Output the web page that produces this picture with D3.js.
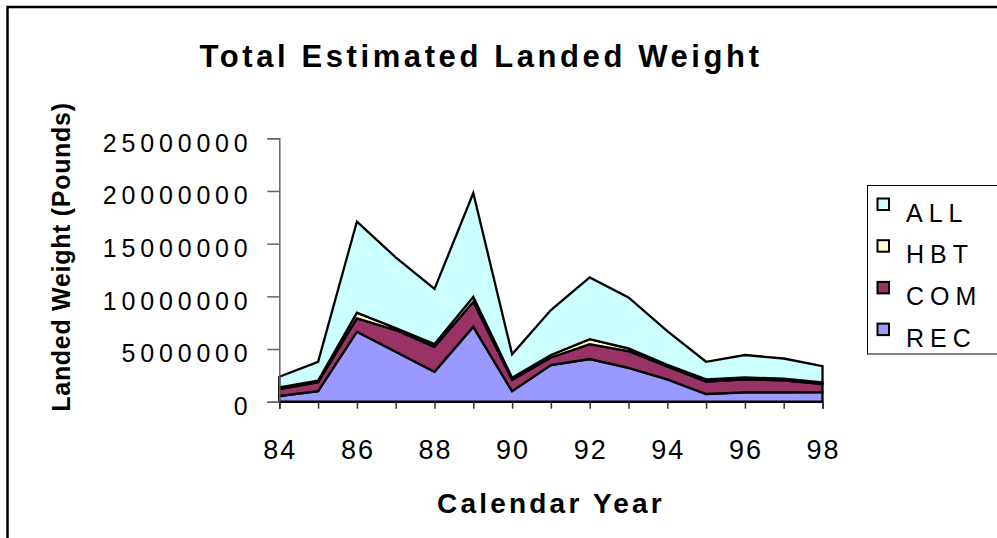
<!DOCTYPE html>
<html>
<head>
<meta charset="utf-8">
<script src="https://cdn.jsdelivr.net/npm/d3@7"></script>
<style>
  html, body { margin: 0; padding: 0; background: #fff; }
  svg { display: block; font-family: "Liberation Sans", Arial, sans-serif; }
</style>
</head>
<body>
<svg id="chart" width="997" height="538"></svg>
<script>
// ---- Data (values in pounds, stacked REC -> COM -> HBT -> ALL) ----
const years = [84, 85, 86, 87, 88, 89, 90, 91, 92, 93, 94, 95, 96, 97, 98];
const REC = [540000, 1000000, 6640000, 4740000, 2840000, 7110000, 1000000, 3480000, 4050000, 3200000, 2120000, 730000, 890000, 890000, 900000];
const COM = [660000, 850000, 1260000, 2060000, 2360000, 2370000, 1060000, 720000, 1420000, 1600000, 1230000, 1170000, 1230000, 1140000, 780000];
const HBT = [170000, 150000, 540000, 200000, 270000, 470000, 210000, 230000, 470000, 260000, 150000, 220000, 190000, 150000, 160000];
const ALL = [1000000, 1790000, 8660000, 6700000, 5230000, 9850000, 2230000, 4270000, 5860000, 4840000, 3200000, 1670000, 2120000, 1920000, 1540000];
const seriesNames = ["REC", "COM", "HBT", "ALL"];
const seriesColors = ["#9999FF", "#993366", "#FFFFCC", "#CCFFFF"];
const yTicks = [0, 5000000, 10000000, 15000000, 20000000, 25000000];
const xLabelYears = [84, 86, 88, 90, 92, 94, 96, 98];
const titleText = "Total Estimated Landed Weight";
const xTitle = "Calendar Year";
const yTitle = "Landed Weight (Pounds)";

const table = years.map((yr, i) => ({ year: yr, REC: REC[i], COM: COM[i], HBT: HBT[i], ALL: ALL[i] }));

const svg = d3.select("#chart");

// outer chart border
svg.append("rect")
  .attr("x", 7.5).attr("y", 7).attr("width", 1010).attr("height", 560)
  .attr("fill", "#fff").attr("stroke", "#000").attr("stroke-width", 2.5);

const x = d3.scaleLinear().domain([84, 98]).range([279.3, 822.5]);
const y = d3.scaleLinear().domain([0, 25000000]).range([401.7, 138.3]);

const stack = d3.stack().keys(seriesNames);
const stacked = stack(table);

const area = d3.area()
  .x(d => x(d.data.year))
  .y0(d => y(d[0]))
  .y1(d => y(d[1]));

const areaG = svg.append("g");
areaG.selectAll("path")
  .data(stacked)
  .join("path")
  .attr("d", d => area(d) + "Z")
  .attr("fill", (d, i) => seriesColors[i])
  .attr("stroke", "#000")
  .attr("stroke-width", 2.3)
  .attr("stroke-linejoin", "miter");

// Y axis
const yAxis = d3.axisLeft(y).tickValues(yTicks).tickSize(12).tickFormat("");
const yAxisG = svg.append("g").attr("transform", `translate(${x(84)},0)`).call(yAxis);
yAxisG.select(".domain").attr("stroke", "#666").attr("stroke-width", 1.5);
yAxisG.selectAll(".tick line").attr("stroke", "#666").attr("stroke-width", 1.5);

svg.append("g").selectAll("text")
  .data(yTicks)
  .join("text")
  .attr("x", 252.5)
  .attr("y", d => y(d) + 13.3)
  .attr("text-anchor", "end")
  .attr("font-size", 25)
  .attr("letter-spacing", 4.8)
  .attr("fill", "#000")
  .text(d => d3.format("d")(d));

// X axis
const xAxis = d3.axisBottom(x).tickValues(years).tickSize(7).tickFormat("");
const xAxisG = svg.append("g").attr("transform", `translate(0,${y(0)})`).call(xAxis);
xAxisG.select(".domain").attr("stroke", "#000").attr("stroke-width", 1.5);
xAxisG.selectAll(".tick line").attr("stroke", "#333").attr("stroke-width", 1.5);

svg.append("g").selectAll("text")
  .data(xLabelYears)
  .join("text")
  .attr("x", d => x(d) + 1)
  .attr("y", 458.5)
  .attr("text-anchor", "middle")
  .attr("font-size", 27)
  .attr("letter-spacing", 2)
  .attr("fill", "#000")
  .text(d => d);

// Title
svg.append("text")
  .attr("x", 481).attr("y", 66.5)
  .attr("text-anchor", "middle")
  .attr("font-size", 31).attr("font-weight", "bold")
  .attr("letter-spacing", 3.6)
  .text(titleText);

// X title
svg.append("text")
  .attr("x", 551).attr("y", 512.5)
  .attr("text-anchor", "middle")
  .attr("font-size", 28).attr("font-weight", "bold")
  .attr("letter-spacing", 3.2)
  .text(xTitle);

// Y title
svg.append("text")
  .attr("transform", "translate(70,257) rotate(-90)")
  .attr("text-anchor", "middle")
  .attr("font-size", 25).attr("font-weight", "bold")
  .attr("letter-spacing", 0.7)
  .text(yTitle);

// Legend
const legend = svg.append("g");
legend.append("rect")
  .attr("x", 867.5).attr("y", 185.5).attr("width", 160).attr("height", 168.5)
  .attr("fill", "#fff").attr("stroke", "#000").attr("stroke-width", 1);

const legendOrder = seriesNames.slice().reverse();
const legendRows = legend.selectAll("g.row")
  .data(legendOrder)
  .join("g")
  .attr("class", "row")
  .attr("transform", (d, i) => `translate(0,${i * 41.7})`);

legendRows.append("rect")
  .attr("x", 877.5).attr("y", 198.5).attr("width", 11.5).attr("height", 11.5)
  .attr("fill", d => seriesColors[seriesNames.indexOf(d)])
  .attr("stroke", "#000").attr("stroke-width", 2);

legendRows.append("text")
  .attr("x", 906).attr("y", 221.5)
  .attr("font-size", 25)
  .attr("letter-spacing", 6)
  .attr("fill", "#000")
  .text(d => d);
</script>
</body>
</html>
